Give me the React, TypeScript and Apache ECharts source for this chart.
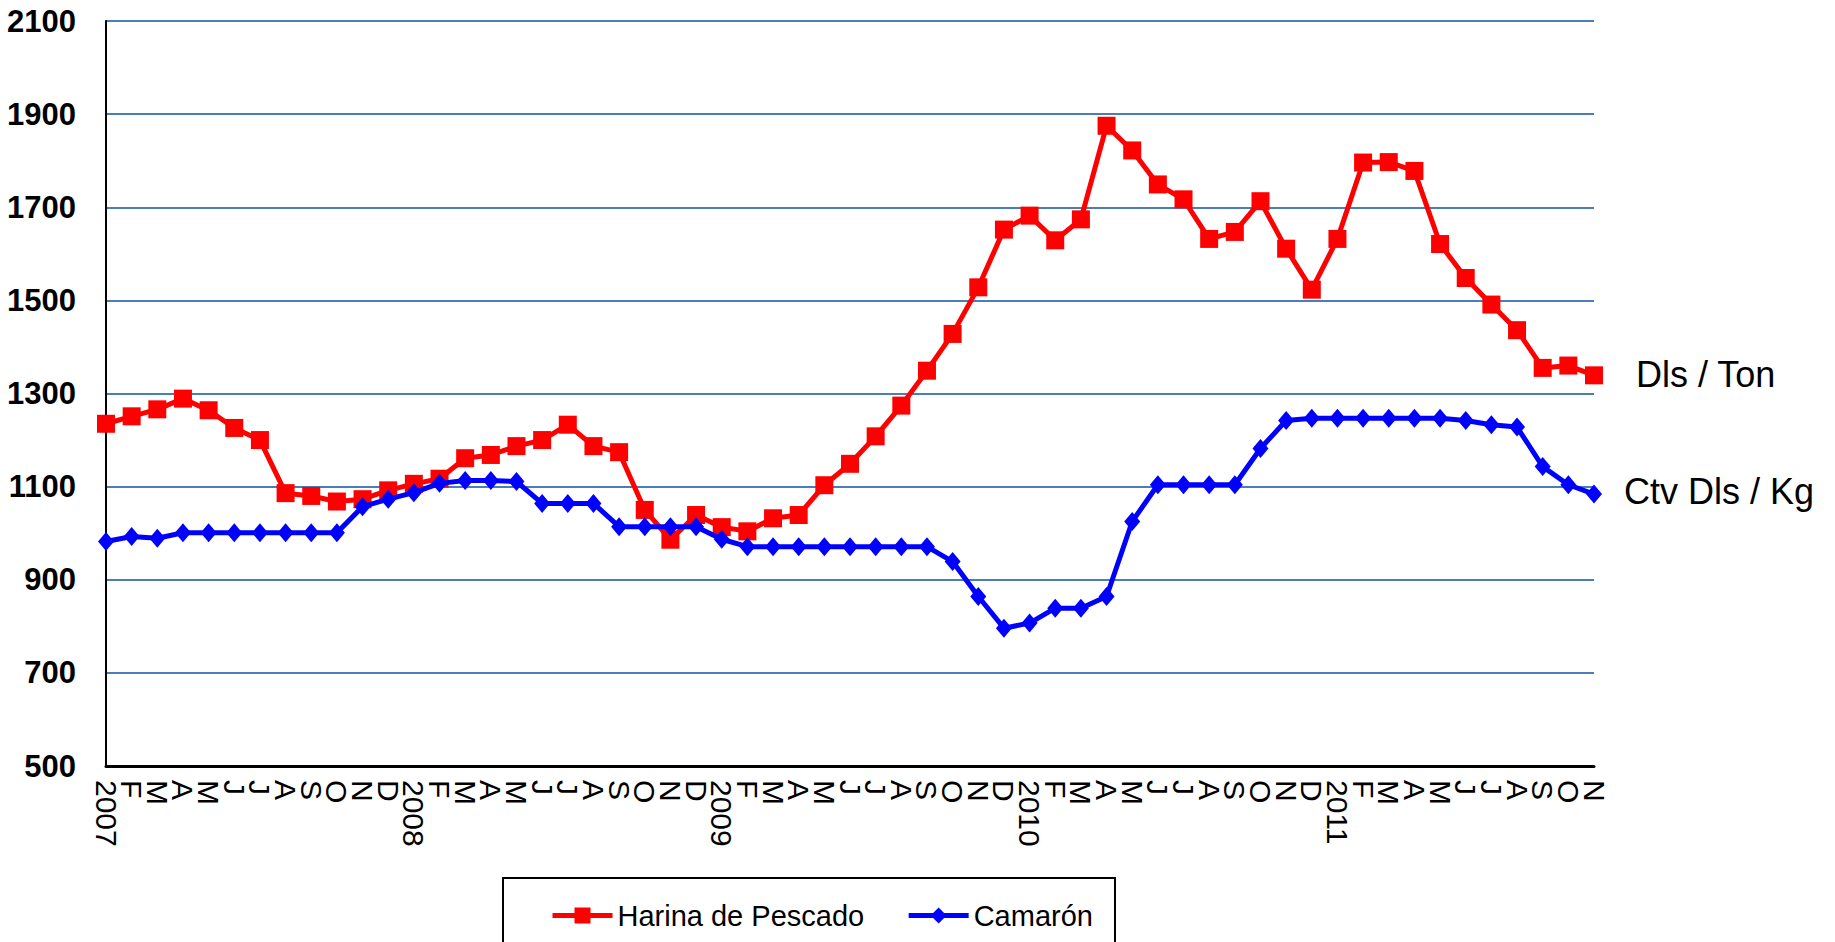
import React, { useEffect, useRef } from "react";
import * as echarts from "echarts";

const months = ["F", "M", "A", "M", "J", "J", "A", "S", "O", "N", "D"];
const years = ["2007", "2008", "2009", "2010", "2011"];
const categories: string[] = [];
years.forEach((y, yi) => {
  categories.push(y);
  const ms = yi === years.length - 1 ? months.slice(0, 10) : months;
  ms.forEach((m) => categories.push(m));
});

const harina = [
  1235, 1251, 1266, 1289, 1264, 1226, 1200, 1086, 1080, 1068, 1073, 1092,
  1106, 1117, 1161, 1168, 1187, 1200, 1233, 1187, 1174, 1050, 986, 1039,
  1013, 1004, 1032, 1039, 1103, 1149, 1208, 1274, 1349, 1428, 1528, 1652,
  1682, 1629, 1674, 1875, 1822, 1749, 1717, 1632, 1647, 1713, 1611, 1523,
  1632, 1796, 1797, 1778, 1621, 1548, 1491, 1436, 1355, 1360, 1339,
];

const camaron = [
  982, 993, 989, 1001, 1001, 1001, 1001, 1001, 1001, 1001, 1057, 1073,
  1087, 1107, 1113, 1113, 1111, 1064, 1064, 1064, 1014, 1014, 1014, 1014,
  987, 971, 971, 971, 971, 971, 971, 971, 971, 939, 864, 796,
  807, 839, 839, 864, 1025, 1104, 1104, 1104, 1104, 1182, 1242, 1247,
  1247, 1247, 1247, 1247, 1247, 1242, 1233, 1228, 1143, 1104, 1084,
];

const seriesNames = ["Harina de Pescado", "Camarón"];
const unitLabels = ["Dls / Ton", "Ctv Dls / Kg"];

export default function App() {
  const ref = useRef<HTMLDivElement>(null);
  useEffect(() => {
    if (!ref.current) return;
    const chart = echarts.init(ref.current, undefined, { renderer: "svg" });
    const sans = "'Liberation Sans', Arial, sans-serif";
    chart.setOption({
      animation: false,
      backgroundColor: "#ffffff",
      grid: {
        left: 106,
        right: 241,
        top: 21,
        bottom: 176,
        containLabel: false,
        outerBoundsMode: "none",
      },
      xAxis: {
        type: "category",
        data: categories,
        boundaryGap: false,
        axisLine: { show: true, lineStyle: { color: "#000", width: 3 } },
        axisTick: { show: false },
        axisLabel: {
          interval: 0,
          rotate: -90,
          margin: 14,
          color: "#000",
          fontFamily: sans,
          fontSize: 30,
        },
        splitLine: { show: false },
      },
      yAxis: {
        type: "value",
        min: 500,
        max: 2100,
        interval: 200,
        axisLine: { show: true, lineStyle: { color: "#000", width: 2 } },
        axisTick: { show: false },
        axisLabel: {
          color: "#000",
          fontFamily: sans,
          fontWeight: "bold",
          fontSize: 31,
          margin: 30,
          formatter: (v: number) => String(v),
        },
        splitLine: { show: true, lineStyle: { color: "#4a7ebb", width: 2 } },
      },
      legend: {
        left: 545,
        top: 896,
        itemWidth: 60,
        itemHeight: 20,
        itemGap: 42,
        textStyle: { color: "#000", fontFamily: sans, fontSize: 29 },
        lineStyle: { width: 5 },
        data: seriesNames,
      },
      graphic: [
        {
          type: "rect",
          shape: { x: 503, y: 878, width: 612, height: 80 },
          style: { fill: "none", stroke: "#000", lineWidth: 2 },
          z: 0,
        },
        {
          type: "text",
          x: 1636,
          y: 374,
          style: {
            text: unitLabels[0],
            fill: "#000",
            font: "36px " + sans,
            textVerticalAlign: "middle",
          },
        },
        {
          type: "text",
          x: 1624,
          y: 491,
          style: {
            text: unitLabels[1],
            fill: "#000",
            font: "36px " + sans,
            textVerticalAlign: "middle",
          },
        },
      ],
      series: [
        {
          name: seriesNames[0],
          type: "line",
          data: harina,
          symbol: "rect",
          symbolSize: 18,
          lineStyle: { color: "#ff0000", width: 5 },
          itemStyle: { color: "#ff0000" },
          z: 3,
        },
        {
          name: seriesNames[1],
          type: "line",
          data: camaron,
          symbol: "diamond",
          symbolSize: [16, 19],
          lineStyle: { color: "#0000ff", width: 5 },
          itemStyle: { color: "#0000ff" },
          z: 4,
        },
      ],
    });
    return () => chart.dispose();
  }, []);
  return (
    <div
      ref={ref}
      style={{ position: "absolute", left: 0, top: 0, width: 1835, height: 942 }}
    />
  );
}
